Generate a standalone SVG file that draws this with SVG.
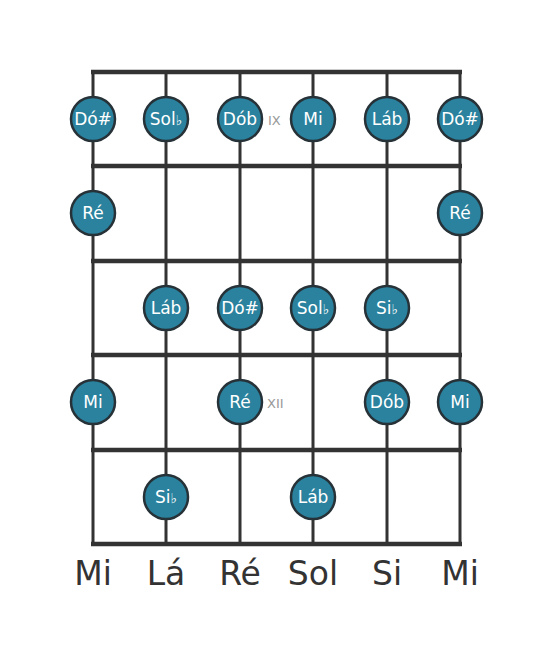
<svg xmlns="http://www.w3.org/2000/svg" width="553" height="656" viewBox="0 0 553 656">
<style>
.fret{stroke:#333;stroke-width:4.5;}
.str{stroke:#333;stroke-width:3;}
.note circle{fill:#2a829e;stroke:#263238;stroke-width:2.5;}
.note text{fill:#fff;font-family:"DejaVu Sans",sans-serif;font-size:17px;text-anchor:middle;}
.note tspan{font-size:14px;}
.fl{fill:#999;font-family:"DejaVu Sans",sans-serif;font-size:13px;}
.sl{fill:#333;font-family:"DejaVu Sans",sans-serif;font-size:33px;text-anchor:middle;}
</style>
<rect width="553" height="656" fill="#fff"/>
<g id="connectors">
<line class="str" x1="93" y1="72" x2="93" y2="544"/>
<line class="str" x1="166" y1="72" x2="166" y2="544"/>
<line class="str" x1="240" y1="72" x2="240" y2="544"/>
<line class="str" x1="313" y1="72" x2="313" y2="544"/>
<line class="str" x1="387" y1="72" x2="387" y2="544"/>
<line class="str" x1="460" y1="72" x2="460" y2="544"/>
<line class="fret" x1="91" y1="72" x2="462" y2="72"/>
<line class="fret" x1="91" y1="166" x2="462" y2="166"/>
<line class="fret" x1="91" y1="261" x2="462" y2="261"/>
<line class="fret" x1="91" y1="355" x2="462" y2="355"/>
<line class="fret" x1="91" y1="450" x2="462" y2="450"/>
<line class="fret" x1="91" y1="544" x2="462" y2="544"/>
</g>
<text class="fl" x="268" y="125">IX</text>
<text class="fl" x="267" y="408">XII</text>
<g id="n1" class="note"><circle cx="93" cy="119" r="22"/><text x="93" y="125">Dó#</text></g>
<g id="n2" class="note"><circle cx="166" cy="119" r="22"/><text x="166" y="125">Sol<tspan>♭</tspan></text></g>
<g id="n3" class="note"><circle cx="240" cy="119" r="22"/><text x="240" y="125">Dób</text></g>
<g id="n4" class="note"><circle cx="313" cy="119" r="22"/><text x="313" y="125">Mi</text></g>
<g id="n5" class="note"><circle cx="387" cy="119" r="22"/><text x="387" y="125">Láb</text></g>
<g id="n6" class="note"><circle cx="460" cy="119" r="22"/><text x="460" y="125">Dó#</text></g>
<g id="n7" class="note"><circle cx="93" cy="213" r="22"/><text x="93" y="219">Ré</text></g>
<g id="n8" class="note"><circle cx="460" cy="213" r="22"/><text x="460" y="219">Ré</text></g>
<g id="n9" class="note"><circle cx="166" cy="308" r="22"/><text x="166" y="314">Láb</text></g>
<g id="n10" class="note"><circle cx="240" cy="308" r="22"/><text x="240" y="314">Dó#</text></g>
<g id="n11" class="note"><circle cx="313" cy="308" r="22"/><text x="313" y="314">Sol<tspan>♭</tspan></text></g>
<g id="n12" class="note"><circle cx="387" cy="308" r="22"/><text x="387" y="314">Si<tspan>♭</tspan></text></g>
<g id="n13" class="note"><circle cx="93" cy="402" r="22"/><text x="93" y="408">Mi</text></g>
<g id="n14" class="note"><circle cx="240" cy="402" r="22"/><text x="240" y="408">Ré</text></g>
<g id="n15" class="note"><circle cx="387" cy="402" r="22"/><text x="387" y="408">Dób</text></g>
<g id="n16" class="note"><circle cx="460" cy="402" r="22"/><text x="460" y="408">Mi</text></g>
<g id="n17" class="note"><circle cx="166" cy="497" r="22"/><text x="166" y="503">Si<tspan>♭</tspan></text></g>
<g id="n18" class="note"><circle cx="313" cy="497" r="22"/><text x="313" y="503">Láb</text></g>
<g id="labels">
<text class="sl" x="93" y="585">Mi</text>
<text class="sl" x="166" y="585">Lá</text>
<text class="sl" x="240" y="585">Ré</text>
<text class="sl" x="313" y="585">Sol</text>
<text class="sl" x="387" y="585">Si</text>
<text class="sl" x="460" y="585">Mi</text>
</g>
</svg>
